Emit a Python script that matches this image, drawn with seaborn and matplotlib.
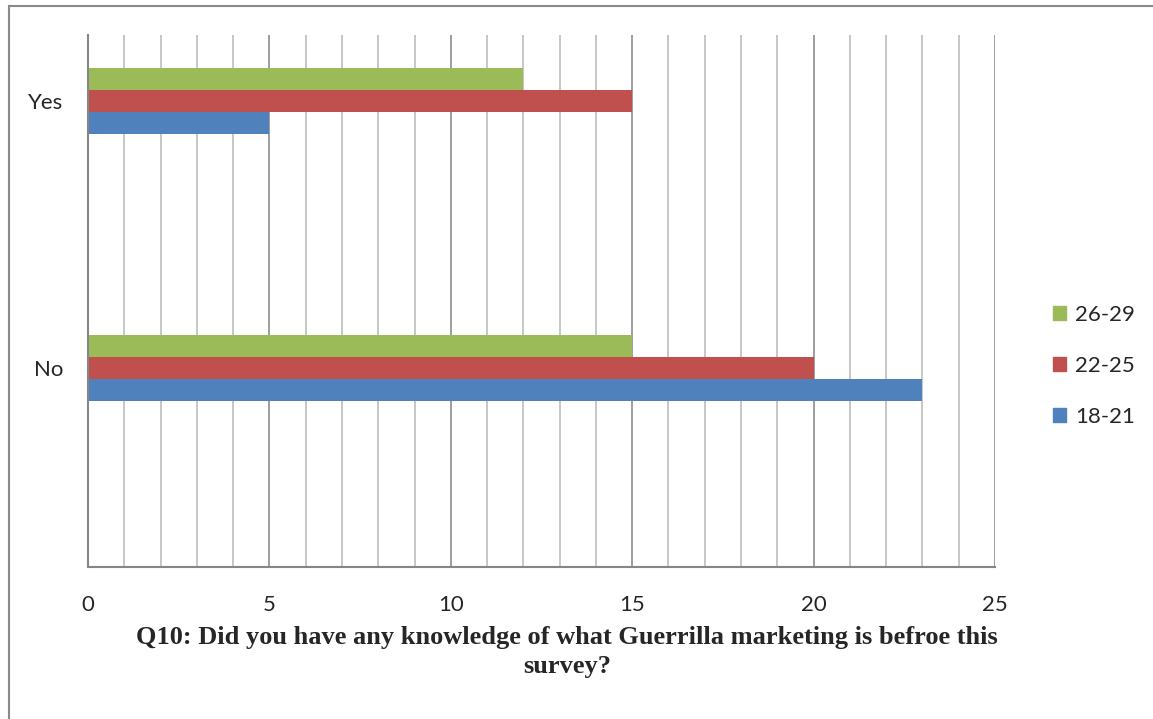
import matplotlib.pyplot as plt
import matplotlib.patches as mpatches
import pandas as pd
import seaborn as sns

# answers to Q10 by age group
answers = ["Yes", "No"]
age_groups = ["26-29", "22-25", "18-21"]
counts_26_29 = [12, 15]
counts_22_25 = [15, 20]
counts_18_21 = [5, 23]

colors = {"26-29": "#9BBB59", "22-25": "#C0504D", "18-21": "#4F81BD"}

rows = []
for group, values in zip(age_groups, [counts_26_29, counts_22_25, counts_18_21]):
    for answer, value in zip(answers, values):
        rows.append({"answer": answer, "age": group, "count": value})
df = pd.DataFrame(rows)

sns.set_style("white")
plt.rcParams["font.family"] = ["Lato", "DejaVu Sans"]

W, H = 1153, 719
fig = plt.figure(figsize=(W / 100, H / 100), dpi=100)
ax = fig.add_axes([88 / W, 1 - 567 / H, (995 - 88) / W, (567 - 35) / H])

sns.barplot(
    data=df,
    y="answer",
    x="count",
    hue="age",
    order=answers,
    hue_order=age_groups,
    palette=colors,
    orient="y",
    width=0.25,
    saturation=1,
    linewidth=0,
    legend=False,
    ax=ax,
)

ax.set_xlim(0, 25)
ax.set_ylim(1.745, -0.247)
ax.set_xticks(range(0, 26, 5))
ax.set_xticks(range(0, 26), minor=True)
ax.set_axisbelow(True)
ax.grid(which="minor", axis="x", color="#c3c3c3", linewidth=1.3)
ax.grid(which="major", axis="x", color="#969696", linewidth=1.3)
ax.grid(which="major", axis="y", visible=False)

for side in ["top", "right"]:
    ax.spines[side].set_visible(False)
for side in ["left", "bottom"]:
    ax.spines[side].set_color("#868686")
    ax.spines[side].set_linewidth(1.5)

ax.tick_params(axis="x", which="major", length=5, width=1.3, color="#868686",
               labelsize=16, pad=15.5)
ax.tick_params(axis="x", which="minor", length=0)
ax.tick_params(axis="y", length=0, labelsize=16, pad=18)
ax.set_xlabel("")
ax.set_ylabel("")

handles = [mpatches.Patch(color=colors[g], label=g) for g in age_groups]
fig.legend(
    handles=handles,
    loc="center left",
    bbox_to_anchor=(1033 / W, 1 - 366 / H),
    frameon=False,
    fontsize=16,
    handlelength=0.6,
    handleheight=0.6,
    handletextpad=0.4,
    labelspacing=1.4,
)

fig.text(
    567 / W, 1 - 626 / H,
    "Q10: Did you have any knowledge of what Guerrilla marketing is befroe this\nsurvey?",
    ha="center", va="top", fontsize=19, fontweight="bold",
    family=["Liberation Serif", "DejaVu Serif"], linespacing=1.36,
)

# outer chart frame (left and top edges visible)
fig.patches.append(mpatches.Rectangle(
    (9 / W, -0.1), 1.2, 1 - 6 / H + 0.1, transform=fig.transFigure,
    fill=False, edgecolor="#8a8a8a", linewidth=1.5,
))

fig.savefig("out.png", dpi=100)
